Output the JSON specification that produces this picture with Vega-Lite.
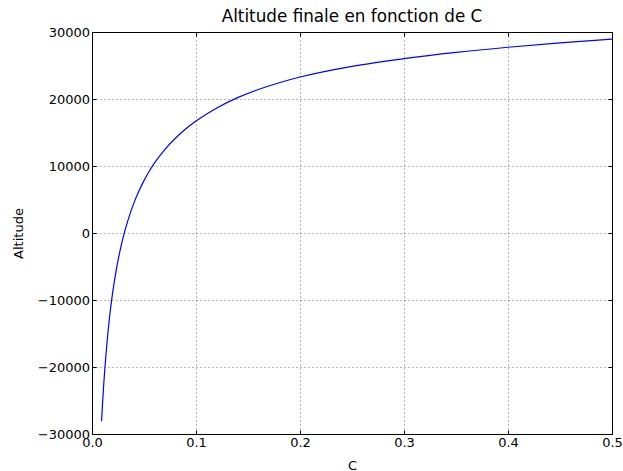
{
  "$schema": "https://vega.github.io/schema/vega-lite/v6.json",
  "width": 520,
  "height": 402,
  "autosize": "none",
  "padding": {"left": 92, "top": 32, "right": 11, "bottom": 37},
  "background": "white",
  "title": {"text": "Altitude finale en fonction de C", "fontSize": 16.8, "font": "DejaVu Sans", "fontWeight": "normal", "color": "#000", "offset": 0.5, "anchor": "middle"},
  "config": {
    "view": {"stroke": "#000", "strokeWidth": 1},
    "axis": {
      "labelFont": "DejaVu Sans", "labelFontSize": 13, "labelColor": "#000",
      "titleFont": "DejaVu Sans", "titleFontSize": 13, "titleFontWeight": "normal", "titleColor": "#000",
      "domain": false, "tickColor": "#000", "tickSize": -4, "tickWidth": 1,
      "gridColor": "#000", "gridDash": [1, 3], "gridWidth": 0.8, "gridOpacity": 0.7,
      "labelFlush": false, "labelOverlap": false
    }
  },
  "resolve": {"axis": {"x": "independent", "y": "independent"}},
  "data": {"values": [
    {"C": 0.0092, "Altitude": -28100},
    {"C": 0.0100, "Altitude": -25800},
    {"C": 0.0110, "Altitude": -23250},
    {"C": 0.0120, "Altitude": -21000},
    {"C": 0.0135, "Altitude": -18000},
    {"C": 0.0150, "Altitude": -15400},
    {"C": 0.0165, "Altitude": -13100},
    {"C": 0.0180, "Altitude": -11070},
    {"C": 0.0200, "Altitude": -8750},
    {"C": 0.0225, "Altitude": -6250},
    {"C": 0.0250, "Altitude": -4120},
    {"C": 0.0275, "Altitude": -2240},
    {"C": 0.0300, "Altitude": -610},
    {"C": 0.0350, "Altitude": 2110},
    {"C": 0.0400, "Altitude": 4350},
    {"C": 0.0450, "Altitude": 6230},
    {"C": 0.0500, "Altitude": 7820},
    {"C": 0.0550, "Altitude": 9210},
    {"C": 0.0600, "Altitude": 10430},
    {"C": 0.0700, "Altitude": 12460},
    {"C": 0.0800, "Altitude": 14110},
    {"C": 0.0900, "Altitude": 15510},
    {"C": 0.1000, "Altitude": 16710},
    {"C": 0.1200, "Altitude": 18670},
    {"C": 0.1400, "Altitude": 20200},
    {"C": 0.1600, "Altitude": 21420},
    {"C": 0.1800, "Altitude": 22430},
    {"C": 0.2000, "Altitude": 23280},
    {"C": 0.2500, "Altitude": 24880},
    {"C": 0.3000, "Altitude": 26020},
    {"C": 0.3500, "Altitude": 26950},
    {"C": 0.4000, "Altitude": 27720},
    {"C": 0.4500, "Altitude": 28380},
    {"C": 0.5000, "Altitude": 28950}
  ]},
  "layer": [
    {
      "mark": {"type": "line", "color": "#0000ff", "strokeWidth": 1.2, "interpolate": "monotone", "clip": true},
      "encoding": {
        "x": {"field": "C", "type": "quantitative", "scale": {"domain": [0, 0.5], "nice": false, "zero": false},
              "axis": {"title": "C", "values": [0, 0.1, 0.2, 0.3, 0.4, 0.5], "format": ".1f", "labelPadding": 6.5, "titlePadding": 10}},
        "y": {"field": "Altitude", "type": "quantitative", "scale": {"domain": [-30000, 30000], "nice": false},
              "axis": {"title": "Altitude", "values": [-30000, -20000, -10000, 0, 10000, 20000, 30000], "format": "d", "labelPadding": 6.5, "titlePadding": 12}}
      }
    },
    {
      "mark": {"type": "point", "opacity": 0},
      "encoding": {
        "x": {"field": "C", "type": "quantitative", "axis": {"orient": "top", "labels": false, "title": null, "grid": false, "values": [0, 0.1, 0.2, 0.3, 0.4, 0.5]}},
        "y": {"field": "Altitude", "type": "quantitative", "axis": {"orient": "right", "labels": false, "title": null, "grid": false, "values": [-30000, -20000, -10000, 0, 10000, 20000, 30000]}}
      }
    }
  ]
}
